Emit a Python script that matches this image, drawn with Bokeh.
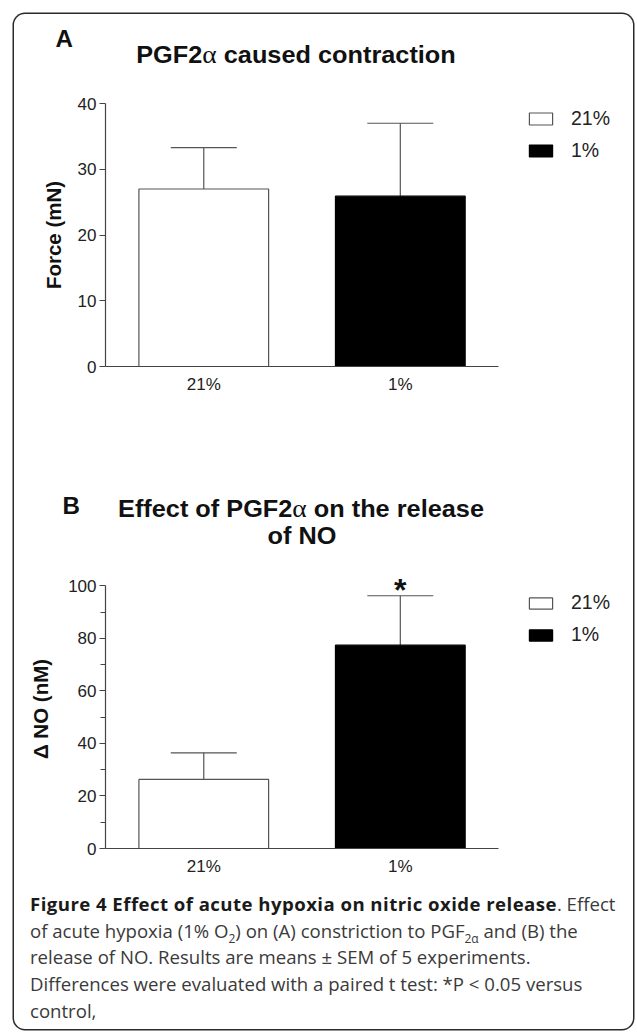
from bokeh.plotting import figure
from bokeh.models import (Range1d, FixedTicker, Legend, LegendItem,
                          ColumnDataSource, Whisker, TeeHead, Div)
from bokeh.layouts import column
from bokeh.embed import file_html
from bokeh.resources import INLINE

# ---------------- data ----------------
groups = ["21%", "1%"]
force_mean = [27.0, 25.9]
force_sem = [6.3, 11.1]
force_signif = [False, False]
no_mean = [26.3, 77.4]
no_sem = [10.1, 18.8]
no_signif = [False, True]
force_ticks = [0, 10, 20, 30, 40]
force_minor = []
no_ticks = [0, 20, 40, 60, 80, 100]
no_minor = [10, 30, 50, 70, 90]
bar_fills = ["white", "black"]
bar_lines = ["#555555", "#000000"]

FONT = "Liberation Sans"
AX = "#444444"
W = 619


def make_panel(means, sems, signif, ticks, minor, ylabel, height, mbl, mbr, mbt, mbb,
               yhead, legend_loc, glyph_h, ylab_standoff):
    n = len(groups)
    pos = [i + 1 for i in range(n)]
    p = figure(x_range=Range1d(0.5, n + 1.1),
               y_range=Range1d(ticks[0], ticks[-1] * yhead),
               width=W, height=height,
               min_border_left=mbl, min_border_right=mbr,
               min_border_top=mbt, min_border_bottom=mbb,
               output_backend="svg", toolbar_location=None, margin=0)
    p.outline_line_color = None
    p.xgrid.visible = False
    p.ygrid.visible = False
    p.background_fill_color = "white"
    p.border_fill_color = "white"

    rends = []
    for i in range(n):
        r = p.vbar(x=[pos[i]], top=[means[i]], width=0.66, bottom=0,
                   fill_color=bar_fills[i], line_color=bar_lines[i], line_width=1.2)
        rends.append(r)

    hi = [m + s for m, s in zip(means, sems)]
    src = ColumnDataSource(dict(x=pos, lo=means, hi=hi))
    w = Whisker(base="x", lower="lo", upper="hi", source=src,
                line_color="#555555", line_width=1.2,
                upper_head=TeeHead(size=66, line_color="#555555", line_width=1.2),
                lower_head=None)
    p.add_layout(w)

    for i in range(n):
        if signif[i]:
            p.text(x=[pos[i]], y=[hi[i]], text=["*"], text_align="center",
                   text_baseline="alphabetic", y_offset=-6,
                   text_font={"value": FONT}, text_font_style="bold",
                   text_font_size="32px", text_color="#111111")

    # axes
    ya = p.yaxis[0]
    ya.ticker = FixedTicker(ticks=ticks, minor_ticks=minor)
    ya.bounds = (ticks[0], ticks[-1])
    ya.axis_line_color = AX
    ya.axis_line_width = 1.2
    ya.major_tick_line_color = AX
    ya.major_tick_line_width = 1.2
    ya.major_tick_out = 6
    ya.major_tick_in = 0
    ya.minor_tick_line_color = AX
    ya.minor_tick_out = 5
    ya.minor_tick_in = 0
    ya.major_label_text_font = FONT
    ya.major_label_text_font_size = "17px"
    ya.major_label_text_color = "#222222"
    ya.major_label_standoff = 3
    ya.axis_label = ylabel
    ya.axis_label_text_font = FONT
    ya.axis_label_text_font_style = "bold"
    ya.axis_label_text_font_size = "20.5px"
    ya.axis_label_text_color = "#111111"
    ya.axis_label_standoff = ylab_standoff

    xa = p.xaxis[0]
    xa.ticker = FixedTicker(ticks=pos, minor_ticks=[])
    xa.major_label_overrides = {pos[i]: groups[i] for i in range(n)}
    xa.bounds = (0.5, n + 0.5)
    xa.axis_line_color = AX
    xa.axis_line_width = 1.2
    xa.major_tick_line_color = None
    xa.major_tick_out = 0
    xa.minor_tick_line_color = None
    xa.major_label_text_font = FONT
    xa.major_label_text_font_size = "17px"
    xa.major_label_text_color = "#222222"
    xa.major_label_standoff = 8

    leg = Legend(items=[LegendItem(label=g, renderers=[r]) for g, r in zip(groups, rends)],
                 location=legend_loc, padding=0, margin=0, spacing=9,
                 glyph_width=29, glyph_height=glyph_h, label_height=15,
                 label_standoff=16, label_text_font=FONT,
                 label_text_font_size="19.5px", label_text_color="#222222",
                 background_fill_alpha=0, border_line_color=None)
    p.add_layout(leg)
    return p


def head(height, letter, letter_pos, lines, line_pos):
    s = ('<div style="position:relative;width:%dpx;height:%dpx;font-family:\'%s\';'
         'color:#111111;font-weight:bold;font-size:23px;line-height:23px;">' % (W, height, FONT))
    s += ('<span style="position:absolute;left:%.1fpx;top:%.1fpx;transform:scaleX(1.05);">%s</span>'
          % (letter_pos[0], letter_pos[1], letter))
    for (cx, top), txt in zip(line_pos, lines):
        txt = txt.replace("\u03b1", '<span style="font-weight:normal;font-family:\'Liberation Serif\';'
                                    'font-size:25px;line-height:23px;">&#945;</span>')
        s += ('<span style="position:absolute;left:%.1fpx;top:%.1fpx;'
              'transform:translateX(-50%%) scaleX(1.1);white-space:nowrap;">%s</span>'
              % (cx, top, txt))
    s += '</div>'
    return Div(text=s, width=W, height=height, margin=0)


headA = head(70, "A", (41.5, 14.0), ["PGF2\u03b1 caused contraction"], [(281.5, 29.0)])
pA = make_panel(force_mean, force_sem, force_signif, force_ticks, force_minor, "Force (mN)",
                height=356, mbl=86, mbr=17, mbt=19, mbb=74, yhead=1.0,
                legend_loc=(421, 204), glyph_h=15, ylab_standoff=10)

headB = head(124, "B", (48.5, 55.0),
             ["Effect of PGF2\u03b1 on the release", "of NO"],
             [(286.5, 57.0), (288.0, 85.0)])
pB = make_panel(no_mean, no_sem, no_signif, no_ticks, no_minor, "\u0394 NO (nM)",
                height=320, mbl=91, mbr=13, mbt=5, mbb=36, yhead=1.062,
                legend_loc=(421, 202), glyph_h=14, ylab_standoff=13)

sub = '<sub style="line-height:0;font-size:12px;">%s</sub>'
caption_html = (
    '<div style="padding-left:16px;padding-top:7px;font-family:\'Open Sans\';font-size:18.6px;'
    'line-height:26.7px;color:#3a3a3a;white-space:nowrap;">'
    '<b style="color:#1a1a1a;letter-spacing:0.45px;">Figure 4 Effect of acute hypoxia on nitric '
    'oxide release</b>. Effect<br>'
    'of acute hypoxia (1% O' + sub % '2' + ') on (A) constriction to '
    'PGF' + sub % '2&#945;' + ' and (B) the<br>'
    'release of NO. Results are means \u00b1 SEM of 5 experiments.<br>'
    'Differences were evaluated with a paired t test: *P &lt; 0.05 versus<br>'
    'control,</div>'
)
cap = Div(text=caption_html, width=W, height=145, margin=0)

layout = column(headA, pA, headB, pB, cap, margin=(14, 0, 0, 14), spacing=0,
                styles={"box-shadow": "0 0 0 1.5px #2a2a2a", "border-radius": "11px",
                        "overflow": "hidden", "background-color": "white"})

open("out.html", "w").write(file_html(layout, INLINE))
